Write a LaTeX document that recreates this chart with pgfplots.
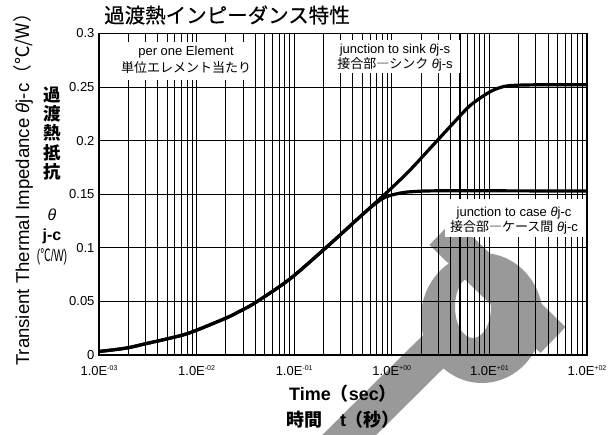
\documentclass[border=0pt]{standalone}
\usepackage{fontspec}
\setmainfont{Liberation Sans}
\newfontfamily\jp{Noto Sans CJK JP}
\newfontfamily\jpt[FakeBold=0.4]{Noto Sans CJK JP}
\usepackage{graphicx}
\usepackage{pgfplots}
\usepackage{pgfplotstable}
\pgfplotsset{compat=1.18}

\definecolor{stamp}{RGB}{153,153,153}
\newcommand{\fs}[2]{\fontsize{#1bp}{#2bp}\selectfont}
\newcommand{\sci}[1]{1.0E\raisebox{4.6bp}{\fs{7}{7}#1}}

% junction to sink
\pgfplotstableread{
t v
0.001 0.0033
0.0014 0.0048
0.002 0.0068
0.003 0.0105
0.005 0.0151
0.0085 0.0207
0.0204 0.0348
0.0279 0.0410
0.0398 0.0487
0.089 0.0705
0.2 0.0982
0.295 0.1120
0.437 0.1262
0.646 0.1402
1.0 0.1560
1.535 0.1725
2.46 0.1927
3.94 0.2129
6.3 0.2325
10.1 0.2455
14 0.2505
20 0.2518
40 0.2522
100 0.2522
}\jsink

% junction to case
\pgfplotstableread{
t v
0.001 0.0033
0.0014 0.0048
0.002 0.0068
0.003 0.0105
0.005 0.0151
0.0085 0.0207
0.0204 0.0348
0.0279 0.0410
0.0398 0.0487
0.089 0.0705
0.2 0.0982
0.295 0.1120
0.437 0.1262
0.646 0.1397
0.87 0.1475
1.29 0.1515
1.9 0.1528
3 0.1532
10 0.1532
100 0.1530
}\jcase

\begin{document}
\begin{tikzpicture}
\path[use as bounding box] (-99bp,-80bp) rectangle (514bp,355bp);

% grey stamp behind the chart
\begin{scope}[shift={(-99bp,355bp)}, x=1bp, y=-1bp]
  \fill[stamp, even odd rule] (482,318) ellipse [x radius=61, y radius=65]
                             (473,307) ellipse [x radius=18, y radius=31];
  \draw[stamp, line width=36bp] (442,232) -- (553,340);
  \draw[stamp, line width=38bp] (440,345) -- (322,462);
\end{scope}

\begin{axis}[
  at={(0,0)}, anchor=south west,
  scale only axis, width=488bp, height=321.5bp,
  xmode=log, xmin=1e-3, xmax=1e2, ymin=0, ymax=0.3,
  xtick={1e-3,1e-2,1e-1,1,10,100},
  xticklabels={\sci{-03},\sci{-02},\sci{-01},\sci{+00},\sci{+01},\sci{+02}},
  minor xtick={2e-3,3e-3,4e-3,5e-3,6e-3,7e-3,8e-3,9e-3,
               2e-2,3e-2,4e-2,5e-2,6e-2,7e-2,8e-2,9e-2,
               0.2,0.3,0.4,0.5,0.6,0.7,0.8,0.9,
               2,3,4,5,6,7,8,9,
               20,30,40,50,60,70,80,90},
  ytick={0,0.05,0.1,0.15,0.2,0.25,0.3},
  yticklabels={0,0.05,0.1,0.15,0.2,0.25,0.3},
  xmajorgrids, xminorgrids, ymajorgrids,
  major grid style={black, line width=1.05bp},
  minor grid style={black, line width=1.05bp},
  axis line style={black, line width=1.5bp},
  major tick length=0pt, minor tick length=0pt,
  tick label style={font=\fs{13}{15}},
  xticklabel style={yshift=-7bp},
  yticklabel style={xshift=-1bp},
]
\addplot[black, line width=3.2bp, smooth] table[x=t, y=v] {\jsink};
\addplot[black, line width=3.2bp, smooth] table[x=t, y=v] {\jcase};
\end{axis}

% label boxes
\fill[white] (28bp,275bp) rectangle (146bp,313bp);
\fill[white] (231bp,282bp) rectangle (361bp,315bp);
\fill[white] (346bp,118bp) rectangle (485bp,156bp);

\node[font=\fs{13}{15}, anchor=base] at (87bp,299bp) {per one Element};
\node[font=\jp\fs{13}{15}, anchor=base] at (87bp,282.5bp) {単位エレメント当たり};
\node[font=\fs{13}{15}, anchor=base] at (296bp,301.5bp) {junction to sink {\itshape θ}j-s};
\node[font=\fs{13}{15}, anchor=base] at (296bp,286.5bp) {{\jp 接合部―シンク} {\itshape θ}j-s};
\node[font=\fs{13}{15}, anchor=base] at (415bp,138.5bp) {junction to case {\itshape θ}j-c};
\node[font=\fs{13}{15}, anchor=base] at (415bp,123bp) {{\jp 接合部―ケース間} {\itshape θ}j-c};

% title
\node[font=\jpt\fs{20.5}{22}] at (128bp,340bp) {過渡熱インピーダンス特性};

% x axis title
\node[font=\bfseries\fs{18}{20}, anchor=base] at (244bp,-45bp) {Time{\jp （}sec{\jp ）}};
\node[font=\jp\bfseries\fs{18}{20}, anchor=base] at (244bp,-71bp) {時間　{\rmfamily t}（秒）};

% y axis titles
\node[rotate=90, font=\fs{18.6}{21}] at (-76bp,170bp)
  {Transient Thermal Impedance {\itshape θ}j-c{\jp （℃/W）}};
\node[font=\jp\bfseries\fs{17.5}{19.4}, align=center] at (-47bp,221.6bp) {過\\渡\\熱\\抵\\抗};
\node[font=\fs{16}{18}\itshape] at (-47bp,140bp) {θ};
\node[font=\fs{16}{18}\bfseries] at (-47bp,119bp) {j-c};
\node[font=\fs{17}{19}] at (-47bp,98bp) {\scalebox{0.62}[1]{({\jp ℃}/W)}};
\end{tikzpicture}
\end{document}
